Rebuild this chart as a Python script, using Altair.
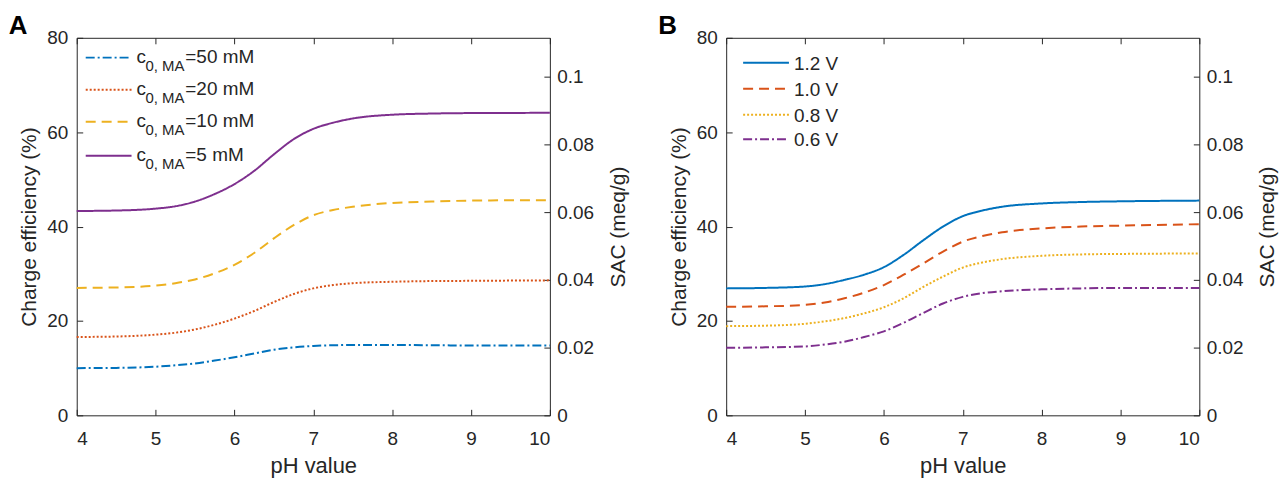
import altair as alt
import pandas as pd

# ---------------- data ----------------
ph = [4, 4.5, 5, 5.25, 5.5, 5.75, 6, 6.25, 6.5, 6.75, 7, 7.25, 7.5, 8, 8.5, 9, 10]

a_series = ["50 mM", "20 mM", "10 mM", "5 mM"]
a_50 = [10.0, 10.05, 10.3, 10.6, 11.0, 11.6, 12.3, 13.1, 13.9, 14.4, 14.7, 14.85, 14.9, 14.9, 14.85, 14.8, 14.8]
a_20 = [16.6, 16.7, 17.1, 17.5, 18.2, 19.2, 20.5, 22.1, 24.0, 25.7, 26.9, 27.6, 28.0, 28.3, 28.45, 28.5, 28.6]
a_10 = [27.0, 27.1, 27.5, 28.0, 28.8, 30.1, 31.9, 34.4, 37.5, 40.3, 42.4, 43.5, 44.2, 45.0, 45.3, 45.5, 45.6]
a_5 = [43.3, 43.4, 43.8, 44.3, 45.3, 46.9, 49.0, 51.8, 55.3, 58.5, 60.7, 62.0, 62.9, 63.7, 63.95, 64.05, 64.1]

b_series = ["1.2 V", "1.0 V", "0.8 V", "0.6 V"]
b_12 = [26.9, 27.0, 27.3, 27.8, 28.7, 29.8, 31.4, 34.0, 37.1, 40.0, 42.2, 43.4, 44.2, 44.9, 45.2, 45.35, 45.5]
b_10 = [23.0, 23.1, 23.4, 23.9, 24.8, 26.0, 27.6, 29.8, 32.2, 34.7, 36.8, 38.0, 38.8, 39.6, 40.0, 40.2, 40.5]
b_08 = [18.9, 19.0, 19.4, 19.9, 20.6, 21.6, 22.9, 24.8, 27.2, 29.4, 31.3, 32.4, 33.1, 33.8, 34.1, 34.2, 34.3]
b_06 = [14.3, 14.4, 14.6, 15.0, 15.6, 16.6, 17.8, 19.6, 21.7, 23.7, 25.1, 25.9, 26.3, 26.7, 26.9, 27.0, 27.0]

x_ticks = [4, 5, 6, 7, 8, 9, 10]
left_ticks = [0, 20, 40, 60, 80]
right_ticks = [0, 0.02, 0.04, 0.06, 0.08, 0.1]
SAC_MAX = 0.1115

# ---------------- styles ----------------
FONT = "Liberation Sans"
INK = "#262626"
colors = ["#0072BD", "#D95319", "#EDB120", "#7E2F8E"]
SOLID = [1, 0]
DASHED = [10, 6]
DOTTED = [2, 2]
DASHDOT = [9, 3, 2, 3]
a_dashes = [DASHDOT, DOTTED, DASHED, SOLID]
b_dashes = [SOLID, DASHED, DOTTED, DASHDOT]

W, H = 475, 379


def ax(orient, **kw):
    base = dict(orient=orient, domain=False, ticks=True, tickSize=6, offset=-6,
                tickColor=INK, tickWidth=1, labelColor=INK, labelFont=FONT,
                labelFontSize=19, titleFont=FONT, titleFontSize=21,
                titleFontWeight="normal", titleColor=INK, grid=False)
    base.update(kw)
    return alt.Axis(**base)


def panel(series, values, dashes, legend_rows, title, legend_kind):
    rows = []
    for s, vals in zip(series, values):
        for x, y in zip(ph, vals):
            rows.append({"x": x, "y": y, "s": s})
    df = pd.DataFrame(rows)
    xs = alt.Scale(domain=[4, 10], nice=False, zero=False)
    ys = alt.Scale(domain=[0, 80], nice=False)
    col = alt.Color("s:N", scale=alt.Scale(domain=series, range=colors), legend=None)
    dash = alt.StrokeDash("s:N", scale=alt.Scale(domain=series, range=dashes), legend=None)

    lines = alt.Chart(df).mark_line(strokeWidth=2, interpolate="monotone").encode(
        x=alt.X("x:Q", scale=xs, axis=ax("bottom", values=x_ticks, labelPadding=14,
                                             title="pH value", titlePadding=7,
                                             titleFontSize=22)),
        y=alt.Y("y:Q", scale=ys, axis=ax("left", values=left_ticks, labelPadding=9,
                                             title="Charge efficiency (%)", titlePadding=7)),
        color=col, strokeDash=dash,
    )

    axdf = pd.DataFrame({"x": [4.0], "y": [0.0]})
    axes2 = alt.Chart(axdf).mark_point(opacity=0).encode(
        x=alt.X("x:Q", scale=xs, axis=ax("top", values=x_ticks, labels=False, title=None)),
        y=alt.Y("y:Q", scale=alt.Scale(domain=[0, SAC_MAX], nice=False),
                axis=ax("right", values=right_ticks, format="~g", labelPadding=7,
                        title="SAC (meq/g)", titleAngle=270, titleBaseline="top",
                        titlePadding=14)),
    )

    ldf = pd.DataFrame(legend_rows)
    lrule = alt.Chart(ldf).mark_rule(strokeWidth=2).encode(
        x=alt.X("x1:Q", scale=xs, axis=None), x2="x2:Q",
        y=alt.Y("y:Q", scale=ys, axis=None),
        color=col, strokeDash=dash,
    )
    layers = [lines, axes2, lrule]
    if legend_kind == "A":
        for field, size, dx, dy in [("t1", 19, 5, 5), ("t2", 15, 14, 13), ("t3", 19, 54, 5)]:
            layers.append(alt.Chart(ldf).mark_text(
                align="left", baseline="alphabetic", font=FONT, fontSize=size,
                color=INK, dx=dx, dy=dy).encode(
                x=alt.X("x2:Q", scale=xs, axis=None),
                y=alt.Y("y:Q", scale=ys, axis=None), text=f"{field}:N"))
    else:
        layers.append(alt.Chart(ldf).mark_text(
            align="left", baseline="middle", font=FONT, fontSize=19,
            color=INK, dx=5, dy=1).encode(
            x=alt.X("x2:Q", scale=xs, axis=None),
            y=alt.Y("y:Q", scale=ys, axis=None), text="t1:N"))

    return alt.layer(*layers).resolve_scale(x="independent", y="independent").properties(
        width=W, height=H,
        title=alt.TitleParams(text=title, anchor="start", frame="bounds", fontSize=26,
                              fontWeight="bold", font=FONT, color="#000000", dx=-10,
                              offset=-10),
    )


a_legend = [
    {"s": a_series[i], "y": y, "x1": 4.114, "x2": 4.695, "t1": "c", "t2": "0, MA",
     "t3": "=" + a_series[i]}
    for i, y in enumerate([75.8, 69.0, 62.2, 55.0])
]
b_legend = [
    {"s": b_series[i], "y": y, "x1": 4.215, "x2": 4.796, "t1": b_series[i]}
    for i, y in enumerate([74.7, 69.2, 63.7, 58.5])
]

pa = panel(a_series, [a_50, a_20, a_10, a_5], a_dashes, a_legend, "A", "A")
pb = panel(b_series, [b_12, b_10, b_08, b_06], b_dashes, b_legend, "B", "B")

chart = alt.hconcat(pa, pb, spacing=28).resolve_scale(
    color="independent", strokeDash="independent"
).properties(
    padding={"left": 0, "top": 3, "right": 0, "bottom": 0}
).configure_view(stroke=INK, strokeWidth=1)

chart.save("out.html", embed_options={"renderer": "svg", "actions": False})
